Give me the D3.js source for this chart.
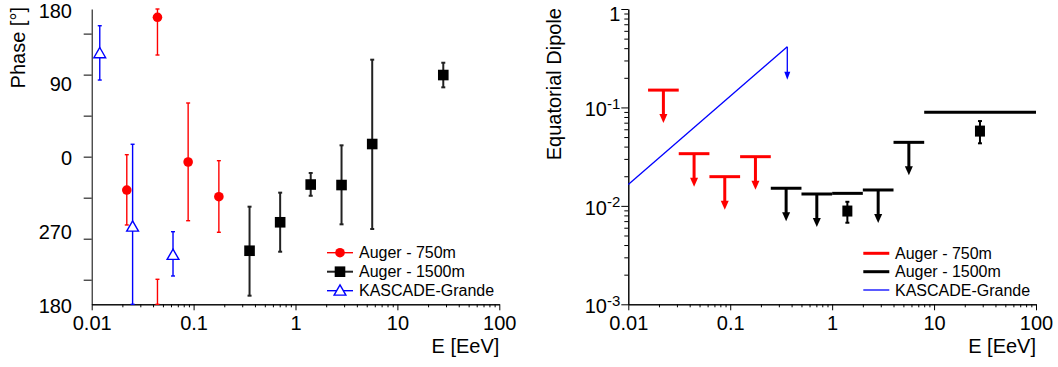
<!DOCTYPE html>
<html>
<head>
<meta charset="utf-8">
<script src="https://cdn.jsdelivr.net/npm/d3@7"></script>
<style>
    body { margin: 0; background: #fff; }
    svg text { font-family: "Liberation Sans", Arial, Helvetica, sans-serif; fill: #000; }
</style>
</head>
<body>
<div id="chart"></div>
<script>
// ---- phase panel (left) ----
const energy750 = [0.0221, 0.0442, 0.0884, 0.177];
const phase750 = [-40.7, 169.9, -6.5, -48.8];
const phase750Lo = [-83.3, 123.9, -78.1, -92.2];
const phase750Hi = [2.4, 210.5, 65.4, -4.9];

const energy1500 = [0.354, 0.707, 1.41, 2.83, 5.66, 28.2];
const phase1500 = [-114.7, -80, -34, -34.6, 15.4, 99.5];
const phase1500Lo = [-169.5, -115.9, -47.7, -82.5, -88.2, 84.5];
const phase1500Hi = [-61, -43.9, -19.9, 13.8, 118.2, 114.5];

const energyKG = [0.012, 0.0252, 0.0628];
const phaseKG = [126, -85.4, -119.9];
const phaseKGLo = [93.4, -180, -145.5];
const phaseKGHi = [159.6, 15.1, -91.5];

const phaseTicks = [-150, -100, -50, 0, 50, 100, 150];
const phaseLabelValues = [-180, -90, 0, 90, 180];
const phaseLabels = ["180", "270", "0", "90", "180"];

// ---- equatorial dipole panel (right) ----
const binEdges750 = [1/64, 1/32, 1/16, 1/8, 1/4];
const limit750 = [0.150, 0.0339, 0.0198, 0.0316];

const binEdges1500 = [0.25, 0.5, 1, 2, 4, 8, 100];
const limit1500 = [0.0151, 0.0132, 0.0134, 0.0145, 0.0442, 0.0891];
const arrow1500 = [true, true, false, true, true, false];

const energyMeas = [1.41, 28.2];
const dipoleMeas = [0.00886, 0.0575];
const dipoleMeasLo = [0.00674, 0.0432];
const dipoleMeasHi = [0.0110, 0.0727];

const energyKGLimit = [0.01, 0.363];
const dipoleKGLimit = [0.0165, 0.414];

const energyTicks = [0.01, 0.1, 1, 10, 100];
const energyLabels = ["0.01", "0.1", "1", "10", "100"];
const dipoleTicks = [1e-3, 1e-2, 1e-1, 1];
const dipoleExponents = ["-3", "-2", "-1", ""];
const legendNames = ["Auger - 750m", "Auger - 1500m", "KASCADE-Grande"];

const RED = "#ff0000", BLACK = "#000000", BLUE = "#0000ff";
const FONT = 20;

const svg = d3.select("#chart").append("svg")
    .attr("width", 1058)
    .attr("height", 367);

const plotTop = 9, plotBottom = 304.3;

const xPhase = d3.scaleLog().domain([0.01, 100]).range([91.7, 499.3]);
const yPhase = d3.scaleLinear().domain([-180, 180]).range([plotBottom, plotTop]);
const xDip = d3.scaleLog().domain([0.01, 100]).range([628.3, 1036]);
const yDip = d3.scaleLog().domain([1e-3, 1]).range([plotBottom, plotTop]);

// minor ticks of a log axis: 2..9 in every decade
function logMinor(majors) {
    var minor = [];
    majors.slice(0, -1).forEach(d => {
        for (var k = 2; k < 10; k++) minor.push(d * k);
    });
    return minor;
}

function cleanAxis(g) {
    g.attr("font-size", null).attr("font-family", null);
    g.selectAll("line, path").attr("stroke", "#000").attr("stroke-width", 1);
}

function drawEnergyAxis(x) {
    svg.append("g")
        .attr("transform", "translate(0," + plotBottom + ")")
        .call(d3.axisBottom(x).tickValues(logMinor(energyTicks)).tickSize(3).tickSizeOuter(0).tickFormat(""))
        .call(cleanAxis);
    svg.append("g")
        .attr("transform", "translate(0," + plotBottom + ")")
        .call(d3.axisBottom(x).tickValues(energyTicks).tickSize(6).tickPadding(6).tickSizeOuter(0)
            .tickFormat((d, i) => energyLabels[i]))
        .call(cleanAxis)
        .selectAll("text").attr("font-size", FONT);

    svg.append("text")
        .attr("x", x.range()[1])
        .attr("y", 353)
        .attr("text-anchor", "end")
        .attr("font-size", FONT)
        .text("E [EeV]");
}

// ---------- left panel ----------
drawEnergyAxis(xPhase);

svg.append("g")
    .attr("transform", "translate(" + xPhase.range()[0] + ",0)")
    .call(d3.axisLeft(yPhase).tickValues(phaseTicks).tickSize(8).tickSizeOuter(0).tickFormat(""))
    .call(cleanAxis);

svg.selectAll(".phase-label").data(phaseLabelValues).enter()
    .append("text")
    .attr("class", "phase-label")
    .attr("x", 72)
    .attr("y", d => yPhase(d) + (d == 180 ? 2 : 1))
    .attr("dy", "0.36em")
    .attr("text-anchor", "end")
    .attr("font-size", FONT)
    .text((d, i) => phaseLabels[i]);

svg.append("text")
    .attr("transform", "translate(25,7) rotate(-90)")
    .attr("text-anchor", "end")
    .attr("font-size", FONT)
    .text("Phase [°]");

// split an error range that runs past ±180 into wrapped pieces
function phaseSegments(lo, hi) {
    var segs = [[Math.max(lo, -180), Math.min(hi, 180)]];
    if (hi > 180) segs.push([-180, hi - 360]);
    if (lo < -180) segs.push([lo + 360, 180]);
    return segs;
}

function drawPhaseErrors(energies, lo, hi, color, width) {
    var g = svg.append("g").attr("stroke", color).attr("stroke-width", width);
    energies.forEach((e, i) => {
        var px = xPhase(e);
        phaseSegments(lo[i], hi[i]).forEach(s => {
            g.append("line")
                .attr("x1", px).attr("x2", px)
                .attr("y1", yPhase(s[0])).attr("y2", yPhase(s[1]));
            s.forEach(v => {
                g.append("line")
                    .attr("x1", px - 2).attr("x2", px + 2)
                    .attr("y1", yPhase(v)).attr("y2", yPhase(v));
            });
        });
    });
}

drawPhaseErrors(energy750, phase750Lo, phase750Hi, RED, 1.4);
drawPhaseErrors(energy1500, phase1500Lo, phase1500Hi, "#222", 2);
drawPhaseErrors(energyKG, phaseKGLo, phaseKGHi, BLUE, 1.4);

var triangle = d3.symbol().type(d3.symbolTriangle).size(60);

svg.selectAll(".p750").data(energy750).enter()
    .append("circle")
    .attr("cx", d => xPhase(d))
    .attr("cy", (d, i) => yPhase(phase750[i]))
    .attr("r", 4.8)
    .attr("fill", RED);

svg.selectAll(".p1500").data(energy1500).enter()
    .append("rect")
    .attr("x", d => xPhase(d) - 5.3)
    .attr("y", (d, i) => yPhase(phase1500[i]) - 5.3)
    .attr("width", 10.6)
    .attr("height", 10.6)
    .attr("fill", BLACK);

svg.selectAll(".pkg").data(energyKG).enter()
    .append("path")
    .attr("d", triangle)
    .attr("transform", (d, i) => "translate(" + xPhase(d) + "," + (yPhase(phaseKG[i]) + 1) + ")")
    .attr("fill", "#fff")
    .attr("stroke", BLUE)
    .attr("stroke-width", 1.4);

// left legend
var legendRows = [252.7, 271.7, 290.7];
var legL = svg.append("g");
[RED, BLACK, BLUE].forEach((c, i) => {
    legL.append("line")
        .attr("x1", 327).attr("x2", 353)
        .attr("y1", legendRows[i]).attr("y2", legendRows[i])
        .attr("stroke", i == 1 ? "#222" : c)
        .attr("stroke-width", i == 1 ? 2 : 1.4);
    legL.append("text")
        .attr("x", 359).attr("y", legendRows[i])
        .attr("dy", "0.36em")
        .attr("font-size", 16)
        .text(legendNames[i]);
});
legL.append("circle").attr("cx", 340).attr("cy", legendRows[0]).attr("r", 4.8).attr("fill", RED);
legL.append("rect").attr("x", 334.7).attr("y", legendRows[1] - 5.3).attr("width", 10.6).attr("height", 10.6).attr("fill", BLACK);
legL.append("path").attr("d", triangle)
    .attr("transform", "translate(340," + (legendRows[2] + 1) + ")")
    .attr("fill", "#fff").attr("stroke", BLUE).attr("stroke-width", 1.4);

// ---------- right panel ----------
drawEnergyAxis(xDip);

var dipMinor = logMinor(dipoleTicks);
svg.append("g")
    .attr("transform", "translate(" + xDip.range()[0] + ",0)")
    .call(d3.axisLeft(yDip).tickValues(dipMinor).tickSize(4).tickSizeOuter(0).tickFormat(""))
    .call(cleanAxis);

var dipAxis = svg.append("g")
    .attr("transform", "translate(" + xDip.range()[0] + ",0)")
    .call(d3.axisLeft(yDip).tickValues(dipoleTicks).tickSize(7).tickPadding(1).tickSizeOuter(0).tickFormat(""))
    .call(cleanAxis);

dipAxis.selectAll(".tick").append("text")
    .attr("x", -8)
    .attr("y", (d, i) => i == 3 ? 4 : 1)
    .attr("dy", "0.36em")
    .attr("text-anchor", "end")
    .attr("font-size", FONT)
    .each(function (d, i) {
        var t = d3.select(this);
        if (dipoleExponents[i] == "") {
            t.text("1");
        } else {
            t.append("tspan").text("10");
            t.append("tspan").attr("dy", "-0.5em").attr("font-size", 15).text(dipoleExponents[i]);
        }
    });

svg.append("text")
    .attr("transform", "translate(561,8) rotate(-90)")
    .attr("text-anchor", "end")
    .attr("font-size", FONT)
    .text("Equatorial Dipole");

var arrowLen = 33;

function drawArrow(g, px, py, color, shaft, head) {
    g.append("line")
        .attr("x1", px).attr("x2", px)
        .attr("y1", py).attr("y2", py + arrowLen - head[1] + 1)
        .attr("stroke", color)
        .attr("stroke-width", shaft);
    g.append("path")
        .attr("d", "M" + (px - head[0] / 2) + "," + (py + arrowLen - head[1]) +
            "L" + (px + head[0] / 2) + "," + (py + arrowLen - head[1]) +
            "L" + px + "," + (py + arrowLen) + "Z")
        .attr("fill", color);
}

function drawLimits(edges, limits, arrows, color) {
    var g = svg.append("g");
    limits.forEach((v, i) => {
        var x0 = xDip(edges[i]), x1 = xDip(edges[i + 1]);
        g.append("line")
            .attr("x1", x0).attr("x2", x1)
            .attr("y1", yDip(v)).attr("y2", yDip(v))
            .attr("stroke", color)
            .attr("stroke-width", 3);
        if (arrows[i]) {
            var xc = xDip(Math.sqrt(edges[i] * edges[i + 1]));
            drawArrow(g, xc, yDip(v), color, 3, [8, 9]);
        }
    });
}

drawLimits(binEdges750, limit750, limit750.map(() => true), RED);
drawLimits(binEdges1500, limit1500, arrow1500, BLACK);

// measured amplitudes
var meas = svg.append("g");
energyMeas.forEach((e, i) => {
    var px = xDip(e);
    meas.append("line")
        .attr("x1", px).attr("x2", px)
        .attr("y1", yDip(dipoleMeasLo[i])).attr("y2", yDip(dipoleMeasHi[i]))
        .attr("stroke", BLACK).attr("stroke-width", 2);
    [dipoleMeasLo[i], dipoleMeasHi[i]].forEach(v => {
        meas.append("line")
            .attr("x1", px - 2).attr("x2", px + 2)
            .attr("y1", yDip(v)).attr("y2", yDip(v))
            .attr("stroke", BLACK).attr("stroke-width", 2);
    });
    meas.append("rect")
        .attr("x", px - 5).attr("y", yDip(dipoleMeas[i]) - 5.5)
        .attr("width", 10).attr("height", 11)
        .attr("fill", BLACK);
});

// KASCADE-Grande limit line
var kgLine = d3.line().x((d, i) => xDip(d)).y((d, i) => yDip(dipoleKGLimit[i]));
svg.append("path")
    .attr("d", kgLine(energyKGLimit))
    .attr("fill", "none")
    .attr("stroke", BLUE)
    .attr("stroke-width", 1.3);
drawArrow(svg.append("g"), xDip(energyKGLimit[1]), yDip(dipoleKGLimit[1]), BLUE, 1.3, [6, 8]);

// right legend
var legR = svg.append("g");
var legendRowsR = [253.3, 271.7, 290];
[RED, BLACK, BLUE].forEach((c, i) => {
    legR.append("line")
        .attr("x1", 863.3).attr("x2", 889.3)
        .attr("y1", legendRowsR[i]).attr("y2", legendRowsR[i])
        .attr("stroke", c)
        .attr("stroke-width", i == 2 ? 1.3 : 3);
    legR.append("text")
        .attr("x", 895).attr("y", legendRowsR[i])
        .attr("dy", "0.36em")
        .attr("font-size", 16)
        .text(legendNames[i]);
});
</script>
</body>
</html>
